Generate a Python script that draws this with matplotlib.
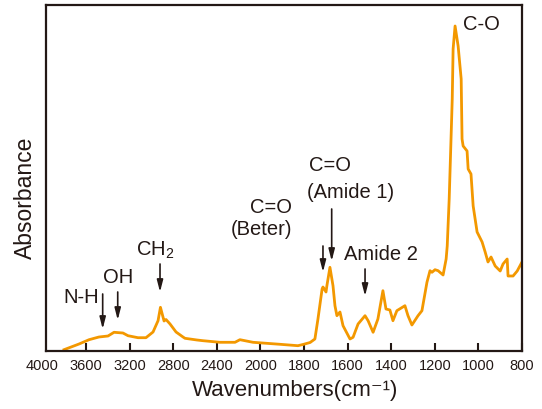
import numpy as np
import matplotlib
matplotlib.use("Agg")
import matplotlib.pyplot as plt

plt.rcParams['font.family'] = ['Liberation Sans', 'Noto Sans CJK JP', 'DejaVu Sans']
plt.rcParams['mathtext.default'] = 'regular'

# FT-IR spectrum (wavenumber in cm-1, absorbance in arbitrary units)
wavenumber = [3802, 3664, 3572, 3481, 3398, 3343, 3261, 3215, 3123, 3050,
              2985, 2939, 2917, 2884, 2866, 2829, 2774, 2710, 2692, 2582,
              2527, 2371, 2233, 2188, 2068, 1910, 1828, 1805, 1772, 1750,
              1736, 1717, 1713, 1699, 1695, 1681, 1667, 1658, 1649, 1635,
              1621, 1589, 1575, 1552, 1520, 1506, 1483, 1461, 1438, 1424,
              1406, 1392, 1374, 1337, 1323, 1305, 1277, 1259, 1236, 1222,
              1213, 1199, 1185, 1162, 1148, 1143, 1134, 1120, 1116, 1107,
              1093, 1079, 1075, 1070, 1052, 1047, 1034, 1024, 1006, 983,
              969, 956, 942, 923, 900, 887, 868, 864, 841, 822, 800]
absorbance = [1.3, 7, 11.3, 14, 15, 18.7, 18, 15.3, 13.3, 13.3,
              19, 30.3, 43.7, 30, 31.5, 27, 19, 14, 12.7, 11,
              10.3, 8.7, 8.7, 11.3, 8.7, 6.7, 5.3, 6.5, 8.5, 12,
              32, 62, 64, 59, 65.3, 83.7, 65.3, 45.3, 35.3, 39,
              25.3, 12, 13.7, 27, 35.3, 30.3, 18.7, 32, 60.3, 42,
              41, 30.3, 40.3, 45.3, 35.3, 26, 35.3, 40.3, 68.7, 80.3,
              78.7, 81.3, 80.3, 76, 92, 105, 152, 252, 302, 325,
              305, 272, 212, 205, 200, 182, 177, 145, 119, 109,
              99, 89, 94, 85, 80, 87, 92, 75, 75, 80, 89]

tick_values = [4000, 3600, 3200, 2800, 2400, 2000, 1800, 1600, 1400, 1200, 1000, 800]

# Band assignments: arrow wavenumber, arrow tail and tip heights
band_labels = ["N-H", "OH", "CH$_2$", "C=O\n(Beter)", "C=O\n(Amide 1)", "Amide 2"]
band_positions = [3447, 3309, 2921, 1713, 1673, 1520]
arrow_tail = [57, 59, 87, 105, 142, 82]
arrow_tip = [22, 31, 59, 79, 90, 55]

INK = '#231815'
ORANGE = '#F39800'


def forward(w):
    w = np.asarray(w, dtype=float)
    return np.where(w >= 2000, w / 400.0, 5.0 + (w - 2000.0) / 200.0)


def inverse(p):
    p = np.asarray(p, dtype=float)
    return np.where(p >= 5, p * 400.0, 2000.0 + (p - 5.0) * 200.0)


fig = plt.figure(figsize=(5.42, 4.10), dpi=100)
ax = fig.add_axes([46 / 542, 1 - 352 / 410, 476 / 542, 346 / 410])
ax.set_xscale('function', functions=(forward, inverse))
ax.plot(wavenumber, absorbance, color=ORANGE, lw=2.0, solid_joinstyle='round')
ax.set_xlim(3967, 800)
ax.set_ylim(0, 346)

ax.set_xticks(tick_values[1:])
ax.set_xticklabels([str(t) for t in tick_values[1:]])
ax.xaxis.set_minor_locator(matplotlib.ticker.NullLocator())
ax.set_yticks([])
ax.tick_params(axis='x', direction='in', length=6, width=1.5, color=INK,
               labelsize=10.5, labelcolor=INK, pad=5)
# the 4000 label sits just outside the frame, so it is placed by hand
ax.annotate(str(tick_values[0]), xy=(tick_values[0], 0),
            xycoords=('data', 'axes fraction'), xytext=(0, -5),
            textcoords='offset points', ha='center', va='top',
            fontsize=10.5, color=INK, annotation_clip=False)

for s in ax.spines.values():
    s.set_linewidth(1.6)
    s.set_color(INK)

ax.set_xlabel("Wavenumbers(cm⁻¹)", fontsize=16, color=INK)
ax.xaxis.set_label_coords(0.523, -0.11)
ax.xaxis.label.set_va('center')
ax.set_ylabel("Absorbance", fontsize=16.5, color=INK)
ax.yaxis.set_label_coords(-0.044, 0.445)
ax.yaxis.label.set_va('center')

for w, a0, a1 in zip(band_positions, arrow_tail, arrow_tip):
    ax.annotate('', xy=(w, a1), xytext=(w, a0),
                arrowprops=dict(arrowstyle='-|>,head_length=0.7,head_width=0.18',
                                lw=1.2, color=INK, shrinkA=0, shrinkB=0))

txt = dict(fontsize=14.5, color=INK, ha='center', va='center')
ax.text(3646, 54, band_labels[0], **txt)
ax.text(3306, 74, band_labels[1], **txt)
ax.text(2968, 102, band_labels[2], **txt)
ax.text(1951, 144, "C=O", **txt)
ax.text(1997, 122, "(Beter)", **txt)
ax.text(1681, 186, "C=O", **txt)
ax.text(1585, 159, "(Amide 1)", **txt)
ax.text(1447, 98, band_labels[5], **txt)
ax.text(988, 327, "C-O", **txt)

fig.savefig("out.png", dpi=100)
